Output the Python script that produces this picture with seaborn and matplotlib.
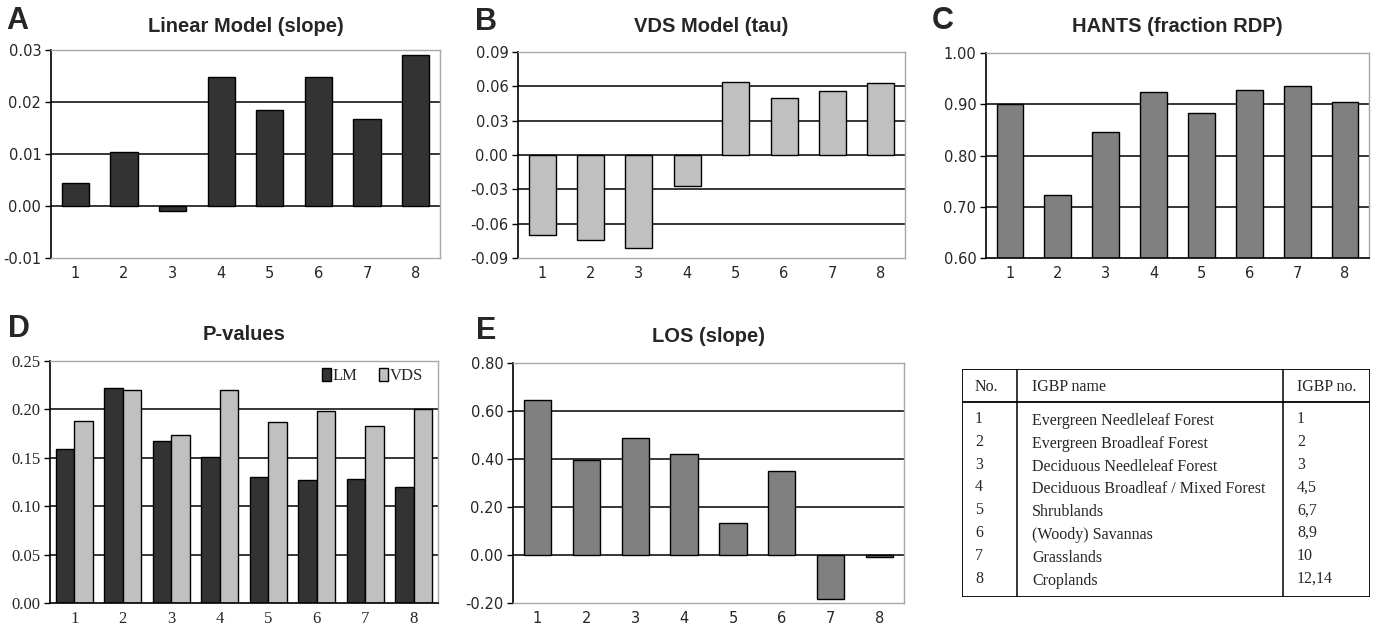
import numpy as np
import pandas as pd
import matplotlib
matplotlib.use("Agg")
import matplotlib.pyplot as plt
import seaborn as sns

# data
classes = ["1", "2", "3", "4", "5", "6", "7", "8"]
lm_slope = [0.0045, 0.0104, -0.001, 0.0248, 0.0185, 0.0248, 0.0168, 0.0291]
vds_tau = [-0.0696, -0.0743, -0.0813, -0.0271, 0.0635, 0.0498, 0.0559, 0.0626]
hants_rdp = [0.901, 0.722, 0.846, 0.924, 0.882, 0.928, 0.935, 0.904]
p_lm = [0.159, 0.222, 0.167, 0.151, 0.130, 0.127, 0.128, 0.120]
p_vds = [0.188, 0.220, 0.174, 0.220, 0.187, 0.198, 0.183, 0.200]
los_slope = [0.646, 0.394, 0.489, 0.420, 0.132, 0.349, -0.182, -0.010]

table_no = ["1", "2", "3", "4", "5", "6", "7", "8"]
table_names = ["Evergreen Needleleaf Forest", "Evergreen Broadleaf Forest",
               "Deciduous Needleleaf Forest", "Deciduous Broadleaf / Mixed Forest",
               "Shrublands", "(Woody) Savannas", "Grasslands", "Croplands"]
table_igbp = ["1", "2", "3", "4,5", "6,7", "8,9", "10", "12,14"]

DARK = "#333333"
LIGHT = "#c0c0c0"
MID = "#808080"

sns.set_style("white")
plt.rcParams["font.family"] = ["Liberation Sans", "DejaVu Sans"]

W, H = 1376, 628
fig = plt.figure(figsize=(W / 100, H / 100), dpi=100)


def px_axes(left, top, right, bottom):
    return fig.add_axes([left / W, 1 - bottom / H, (right - left) / W, (bottom - top) / H])


def style_axes(ax, ticks, fmt, serif=False, black_bottom=False):
    ax.set_ylim(ticks[0], ticks[-1])
    ax.set_xlim(-0.5, 7.5)
    ax.set_yticks(ticks)
    ax.set_yticklabels([fmt.format(t) for t in ticks])
    for t in ticks[1:-1]:
        ax.axhline(t, color="black", lw=1.1, zorder=0.5)
    ax.set_xlabel("")
    ax.set_ylabel("")
    fam = ["Liberation Serif"] if serif else ["DejaVu Sans"]
    size = 12 if serif else 10.5
    for lab in ax.get_xticklabels() + ax.get_yticklabels():
        lab.set_fontfamily(fam)
        lab.set_fontsize(size)
    ax.tick_params(axis="y", length=4, width=1, color="black", pad=3, direction="out", left=True)
    ax.tick_params(axis="x", length=0, pad=6)
    for side in ["top", "right"]:
        ax.spines[side].set_color("#a8a8a8")
        ax.spines[side].set_linewidth(1)
    ax.spines["left"].set_color("black")
    ax.spines["left"].set_linewidth(1.2)
    ax.spines["bottom"].set_color("black" if black_bottom else "#a8a8a8")
    ax.spines["bottom"].set_linewidth(1.2 if black_bottom else 1)


def title(ax, letter, text, lx, ty):
    fig.text(lx / W, 1 - ty / H, letter, fontsize=22, fontweight="bold", ha="left", va="center")
    bb = ax.get_position()
    fig.text((bb.x0 + bb.x1) / 2, 1 - (ty + 5) / H, text, fontsize=14.5, fontweight="bold",
             ha="center", va="center")


def single_bars(ax, values, color):
    df = pd.DataFrame({"cls": classes, "val": values})
    sns.barplot(data=df, x="cls", y="val", color=color, width=0.56, edgecolor="black",
                linewidth=1, saturation=1, ax=ax, zorder=2)


# A
axA = px_axes(51, 50, 440, 258)
single_bars(axA, lm_slope, DARK)
style_axes(axA, [-0.01, 0.0, 0.01, 0.02, 0.03], "{:.2f}")
title(axA, "A", "Linear Model (slope)", 6, 21)

# B
axB = px_axes(518, 52, 905, 258)
single_bars(axB, vds_tau, LIGHT)
style_axes(axB, [-0.09, -0.06, -0.03, 0.0, 0.03, 0.06, 0.09], "{:.2f}")
title(axB, "B", "VDS Model (tau)", 475, 22)

# C
axC = px_axes(986, 53, 1369, 258)
single_bars(axC, hants_rdp, MID)
style_axes(axC, [0.6, 0.7, 0.8, 0.9, 1.0], "{:.2f}", black_bottom=True)
title(axC, "C", "HANTS (fraction RDP)", 932, 21)

# D
axD = px_axes(50, 361, 438, 603)
dfD = pd.DataFrame({"cls": classes * 2, "val": p_lm + p_vds,
                    "model": ["LM"] * 8 + ["VDS"] * 8})
sns.barplot(data=dfD, x="cls", y="val", hue="model", palette=[DARK, LIGHT], width=0.76,
            edgecolor="black", linewidth=1, saturation=1, ax=axD, zorder=2)
style_axes(axD, [0.0, 0.05, 0.10, 0.15, 0.20, 0.25], "{:.2f}", serif=True, black_bottom=True)
axD.legend(loc="upper right", ncol=2, frameon=False, handlelength=0.55,
           handleheight=0.85, handletextpad=0.1, columnspacing=1.3,
           bbox_to_anchor=(1.0, 1.035), prop={"family": "Liberation Serif", "size": 12})
title(axD, "D", "P-values", 8, 329)

# E
axE = px_axes(513, 363, 904, 603)
single_bars(axE, los_slope, MID)
style_axes(axE, [-0.2, 0.0, 0.2, 0.4, 0.6, 0.8], "{:.2f}")
title(axE, "E", "LOS (slope)", 476, 331)

# table of classes
axT = px_axes(962, 369, 1370, 597)
axT.axis("off")
axT.set_xlim(962, 1370)
axT.set_ylim(597, 369)
axT.add_patch(plt.Rectangle((962, 369), 408, 228, fill=False, lw=1.3, ec="black"))
axT.plot([962, 1370], [402, 402], color="black", lw=1.3)
axT.plot([1017, 1017], [369, 597], color="black", lw=1.1)
axT.plot([1283, 1283], [369, 597], color="black", lw=1.1)
tfont = dict(family="Liberation Serif", fontsize=11.5, va="center")
axT.text(975, 387, "No.", **tfont)
axT.text(1032, 387, "IGBP name", **tfont)
axT.text(1297, 387, "IGBP no.", **tfont)
for i, (n, name, igbp) in enumerate(zip(table_no, table_names, table_igbp)):
    y = 419 + i * 22.8
    axT.text(975, y, n, **tfont)
    axT.text(1032, y + 2, name, **tfont)
    axT.text(1297, y, igbp, **tfont)

fig.savefig("out.png", dpi=100)
